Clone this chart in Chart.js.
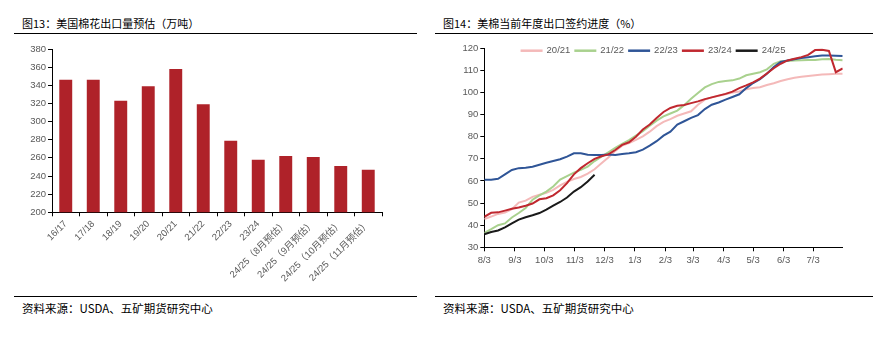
<!DOCTYPE html>
<html><head><meta charset="utf-8">
<script src="https://cdn.jsdelivr.net/npm/chart.js@4.4.0/dist/chart.umd.min.js"></script>
<style>
html,body{margin:0;padding:0;background:#fff;}
body{width:895px;height:338px;position:relative;overflow:hidden;font-family:"Noto Sans CJK SC",sans-serif;}
.title{position:absolute;top:15px;font-size:11px;line-height:16px;color:#000;white-space:nowrap;}
.src{position:absolute;top:300px;font-size:11.5px;line-height:16px;color:#000;white-space:nowrap;}
.rule{position:absolute;height:1px;background:#000;}
canvas{position:absolute;}
</style></head>
<body>
<div class="title" style="left:22px">图13：美国棉花出口量预估（万吨）</div>
<div class="title" style="left:443px">图14：美棉当前年度出口签约进度（%）</div>
<div class="rule" style="left:14px;top:33px;width:403px"></div>
<div class="rule" style="left:435px;top:33px;width:438px"></div>
<canvas id="c1" width="430" height="256" style="left:0px;top:40px"></canvas>
<canvas id="c2" width="440" height="256" style="left:436px;top:40px"></canvas>
<div class="rule" style="left:14px;top:296px;width:403px"></div>
<div class="rule" style="left:435px;top:296px;width:438px"></div>
<div class="src" style="left:22px">资料来源：USDA、五矿期货研究中心</div>
<div class="src" style="left:443px">资料来源：USDA、五矿期货研究中心</div>
<script>
// ---- Chart 13 data ----
const barCategories = ['16/17','17/18','18/19','19/20','20/21','21/22','22/23','23/24','24/25（8月预估）','24/25（9月预估）','24/25（10月预估）','24/25（11月预估）'];
const barValues = [346,346,323,339,358,319,279,258,262,261,251,247];

// ---- Chart 14 data (weekly, starting 8/3) ----
const seriesLabels = ['20/21','21/22','22/23','23/24','24/25'];
const s2021 = [42.8,43.9,45.1,45.7,47.2,50.2,51.1,52.8,53.8,54.6,56,58,59.6,60.9,61.8,63.3,65.3,68,70.6,73.6,76,77.1,78.6,80.2,82.3,84.8,86.7,88,89.5,90.5,91.5,94.5,96.8,97.8,98.5,99.2,100,100.5,101.5,102,102.4,103.4,104.2,105.2,106,106.7,107.1,107.5,107.8,108.1,108.3,108.5,108.5];
const s2122 = [36.5,38.2,40,40.8,43.5,45.5,47.8,51.5,53.5,55.2,57.5,60.6,62.2,63.8,65,66.5,69,71,73,75,76.8,78.5,80.5,82.5,85,87.3,89.2,90.5,91.8,94.3,97.2,99.8,102.3,103.8,104.8,105.2,105.5,106.3,107.8,108.5,109.2,110.5,113,114.2,114.3,114.5,114.6,114.7,114.7,115,115.2,114.8,114.6];
const s2223 = [60.5,60.6,61,63,65,65.8,66,66.4,67.3,68.2,69,69.8,71,72.5,72.5,71.9,71.8,71.8,72,71.8,72.2,72.5,73,74.2,76,78,80.5,82.3,85.5,87,88.5,89.8,92.5,94.5,95.5,96.8,98,99.2,102,104.3,106,108.5,111.5,113.8,114.5,115,115.6,116,116.4,116.7,116.7,116.6,116.5];
const s2324 = [43.8,45.6,45.8,46.6,47.4,48,48.8,49.8,51.7,52.2,53.5,55.8,59,63,65.8,68,70,71.2,72,74,76.3,77.5,80,83.3,85.5,88.5,91.2,93,94,94.4,95.2,96,97,97.8,98.6,99.4,100.4,102,103.2,104.6,106.3,108.6,111,113,114.5,115.3,116,117,119.2,119.3,118.8,109.2,110.9];
const s2425 = [35.9,36.9,37.6,39,40.8,42.5,43.6,44.5,45.5,47,48.8,50.5,52.5,55.2,57.2,59.8,62.8];
const tickLabels = ['8/3','9/3','10/3','11/3','12/3','1/3','2/3','3/3','4/3','5/3','6/3','7/3'];

const seriesColors = ['#F4B9B9','#A9D18E','#2F5597','#C0282F','#1A1A1A'];
const tickFont = {family:'"Liberation Sans", Arial, "Noto Sans CJK SC", sans-serif', size:9.5};
const tickColor = '#595959';

// days since 8/3 for an 'm/d' label (non-leap marketing year)
const seasonStart = new Date(2021, 7, 3);
function dayOffset(label){
  const [m,d] = label.split('/').map(Number);
  const y = m >= 8 ? 2021 : 2022;
  return Math.round((new Date(y, m-1, d) - seasonStart) / 864e5);
}
const tickDays = tickLabels.map(dayOffset);
const weekDays = 7;
const toPoints = arr => arr.map((v,i) => ({x: i*weekDays, y: v}));

// ---- Chart 13 ----
new Chart(document.getElementById('c1'), {
  type: 'bar',
  data: { labels: barCategories, datasets: [{ data: barValues, backgroundColor: '#AF2229', categoryPercentage: 1, barPercentage: 0.47 }] },
  options: {
    responsive: false, animation: false,
    layout: { padding: { left: 0, right: 48, top: 9, bottom: 0 } },
    plugins: { legend: { display: false }, tooltip: { enabled: false } },
    scales: {
      x: {
        grid: { display: true, drawOnChartArea: false, drawTicks: true, tickLength: 4, color: '#000', offset: true },
        border: { display: true, color: '#000', width: 1 },
        ticks: { font: tickFont, color: tickColor, minRotation: 45, maxRotation: 45, autoSkip: false, padding: 2 },
        afterFit: s => { s.height = 83.7; }
      },
      y: {
        min: 200, max: 380,
        grid: { display: true, drawOnChartArea: false, drawTicks: true, tickLength: 4, color: '#000' },
        border: { display: true, color: '#000', width: 1 },
        ticks: { stepSize: 20, font: tickFont, color: tickColor, padding: 2 },
        afterFit: s => { s.width = 52; }
      }
    }
  }
});

// ---- Chart 14 ----
const lineLegend = {
  id: 'lineLegend',
  afterDraw(chart) {
    const ctx = chart.ctx;
    const items = chart.data.datasets;
    ctx.save();
    ctx.font = '9.5px "Liberation Sans", Arial, sans-serif';
    const sw = 22, gapA = 4, gapB = 4;
    let total = 0;
    items.forEach((d, i) => { total += sw + gapA + ctx.measureText(d.label).width + (i < items.length - 1 ? gapB : 0); });
    let x = chart.width / 2 - 3 - total / 2;
    const y = 10.7;
    items.forEach(d => {
      ctx.strokeStyle = d.borderColor; ctx.lineWidth = 2.5;
      ctx.beginPath(); ctx.moveTo(x, y); ctx.lineTo(x + sw, y); ctx.stroke();
      x += sw + gapA;
      ctx.fillStyle = tickColor; ctx.textBaseline = 'middle'; ctx.textAlign = 'left';
      ctx.fillText(d.label, x, y);
      x += ctx.measureText(d.label).width + gapB;
    });
    ctx.restore();
  }
};

const allSeries = [s2021, s2122, s2223, s2324, s2425];
new Chart(document.getElementById('c2'), {
  type: 'line',
  data: {
    datasets: allSeries.map((arr, i) => ({
      label: seriesLabels[i], data: toPoints(arr),
      borderColor: seriesColors[i], backgroundColor: seriesColors[i],
      borderWidth: 2, pointRadius: 0, tension: 0, fill: false,
      order: allSeries.length - i
    }))
  },
  options: {
    responsive: false, animation: false,
    layout: { padding: { left: 0, right: 33.3, top: 8.3, bottom: 0 } },
    plugins: { legend: { display: false }, tooltip: { enabled: false } },
    scales: {
      x: {
        type: 'linear', min: 0, max: 364,
        grid: { display: true, drawOnChartArea: false, drawTicks: true, tickLength: 4, color: '#000' },
        border: { display: true, color: '#000', width: 1 },
        afterBuildTicks: s => { s.ticks = tickDays.map(v => ({ value: v })); },
        ticks: { font: tickFont, color: tickColor, autoSkip: false, maxRotation: 0, padding: 3,
                 callback: (v, i) => tickLabels[i] },
        afterFit: s => { s.height = 48.7; }
      },
      y: {
        min: 30, max: 120,
        grid: { display: true, drawOnChartArea: false, drawTicks: true, tickLength: 4, color: '#000' },
        border: { display: true, color: '#000', width: 1 },
        ticks: { stepSize: 10, font: tickFont, color: tickColor, padding: 2 },
        afterFit: s => { s.width = 48.3; }
      }
    }
  },
  plugins: [lineLegend]
});
</script>
</body></html>
